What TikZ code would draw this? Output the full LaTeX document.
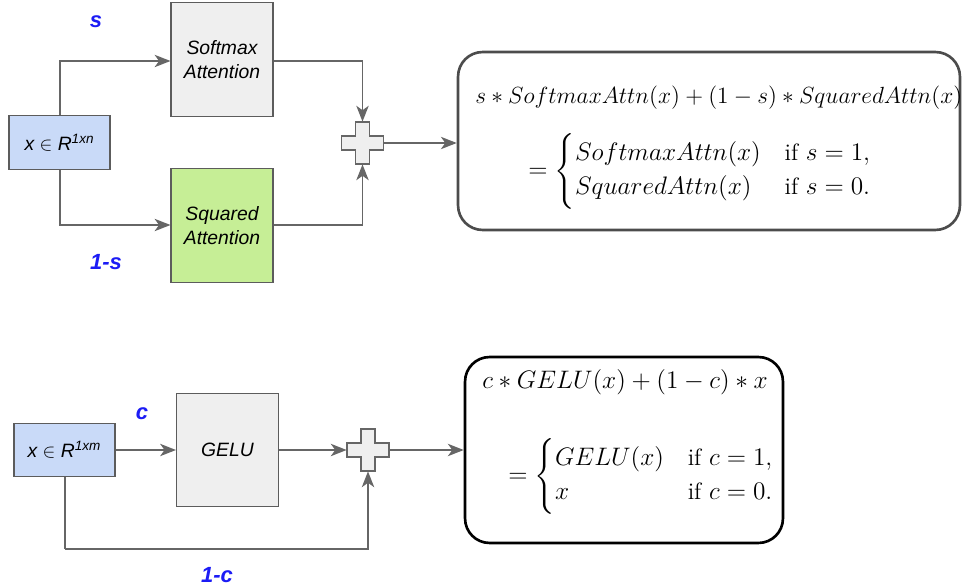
\documentclass[tikz,border=0pt]{standalone}
\usepackage{amsmath}
\usepackage{fontspec}
\setsansfont{Liberation Sans}
\usetikzlibrary{arrows.meta}

\definecolor{linegray}{HTML}{666666}
\definecolor{inblue}{HTML}{C9DAF8}
\definecolor{boxgray}{HTML}{EFEFEF}
\definecolor{sqgreen}{HTML}{C6EE96}
\definecolor{wblue}{HTML}{1C1CF5}

\tikzset{
  block/.style={draw=linegray!90!black, line width=0.6pt, inner sep=0pt,
    align=center, font=\sffamily\itshape\fontsize{11}{14}\selectfont},
  inbox/.style={block, fill=inblue, minimum width=2.02cm, minimum height=1.07cm},
  attbox/.style={block, minimum width=2.04cm, minimum height=2.27cm},
  arr/.style={draw=linegray, line width=1.1pt,
    -{Stealth[length=9pt,width=7pt,inset=2.5pt]}},
  conn/.style={draw=linegray, line width=1.1pt},
  weight/.style={text=wblue, font=\sffamily\bfseries\itshape\fontsize{12.5}{14}\selectfont},
  plusdraw/.style={draw=linegray, fill=boxgray, line width=0.8pt},
  plusnode/.style={inner sep=0pt, minimum size=0.84cm},
  formbox/.style={draw=#1, line width=1.5pt, rounded corners=14pt},
  formula/.style={inner sep=0pt, anchor=west, font=\fontsize{13.5}{16}\selectfont}
}

\begin{document}
\begin{tikzpicture}[x=0.02cm, y=-0.02cm]
    \useasboundingbox (0,0) rectangle (962,587);

    % top: softmax / squared attention
    \node[inbox] (xn) at (59.5,142.5) {x $\in$ R\textsuperscript{1xn}};
    \node[attbox, fill=boxgray] (soft) at (222,59.5) {Softmax\\Attention};
    \node[attbox, fill=sqgreen] (sq) at (222,225.5) {Squared\\Attention};
    \node[plusnode] (plusa) at (362.5,143) {};
    \node[weight] (s) at (96,22) {s};
    \node[weight] (oms) at (106,262) {1-s};

    \draw[arr] (xn.north -| 60,0) |- (soft.west |- 0,61);
    \draw[arr] (xn.south -| 60,0) |- (sq.west |- 0,225);
    \draw[arr] (soft.east |- 0,61) -| (plusa.north);
    \draw[arr] (sq.east |- 0,225) -| (plusa.south);

    \node[formbox=black!70, minimum width=10.04cm, minimum height=3.56cm] (fa) at (709,141) {};
    \node[formula] (fa1) at (475,98) {\resizebox{9.74cm}{!}{$s*SoftmaxAttn(x)+(1-s)*SquaredAttn(x)$}};
    \node[formula] (fa2) at (528,171) {$=\begin{cases}SoftmaxAttn(x) & \text{if } s=1,\\ SquaredAttn(x) & \text{if } s=0.\end{cases}$};
    \draw[arr] (plusa.east) -- (plusa.east -| fa.west);

    % bottom: gelu
    \node[inbox] (xm) at (64.5,450) {x $\in$ R\textsuperscript{1xm}};
    \node[attbox, fill=boxgray] (gelu) at (227.5,450) {GELU};
    \node[plusnode] (plusb) at (368,450) {};
    \node[weight] (c) at (142,414) {c};
    \node[weight] (omc) at (217,575) {1-c};
    \coordinate (bend) at (65,549);

    \draw[arr] (xm) -- (gelu);
    \draw[arr] (gelu) -- (plusb.west);
    \draw[conn] (xm.south -| bend) -- (bend);
    \draw[arr] (bend) -| (plusb.south);

    \node[formbox=black, minimum width=6.36cm, minimum height=3.72cm] (fb) at (624,450) {};
    \node[formula] (fb1) at (482,382) {$c*GELU(x)+(1-c)*x$};
    \node[formula] (fb2) at (508,476) {$=\begin{cases}GELU(x) & \text{if } c=1,\\ x & \text{if } c=0.\end{cases}$};
    \draw[arr] (plusb.east) -- (fb.west);

    \foreach \p in {plusa,plusb}
      \draw[plusdraw, shift={(\p.center)}] (-7,-21) -- (7,-21) -- (7,-7) -- (21,-7) -- (21,7)
        -- (7,7) -- (7,21) -- (-7,21) -- (-7,7) -- (-21,7) -- (-21,-7) -- (-7,-7) -- cycle;
\end{tikzpicture}
\end{document}
